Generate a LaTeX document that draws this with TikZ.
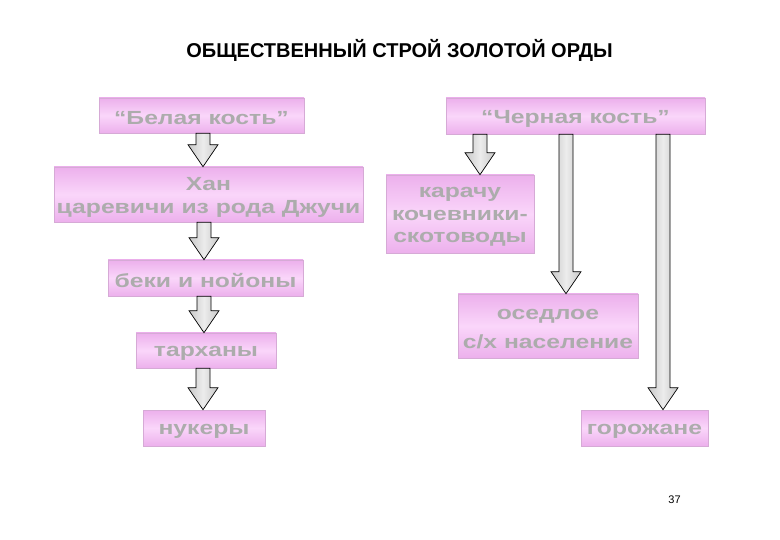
\documentclass[tikz,border=0pt]{standalone}
\usepackage{fontspec}
\setmainfont{Liberation Sans}
\newfontfamily\boxfont[FakeStretch=1.3]{Liberation Sans}
\usetikzlibrary{calc}
\definecolor{pinkedge}{RGB}{236,176,236}
\definecolor{pinklight}{RGB}{250,214,250}
\definecolor{pinkborder}{RGB}{214,170,214}
\definecolor{boxtext}{RGB}{172,172,172}
\definecolor{arrgray}{RGB}{200,200,200}
\definecolor{arrlight}{RGB}{236,236,236}
\tikzset{
  pbox/.style={draw=pinkborder, line width=0.6pt,
    top color=pinkedge, bottom color=pinkedge, middle color=pinklight,
    inner sep=0pt},
  boxtxt/.style={align=center, inner sep=0pt, text=boxtext, yshift=-3pt,
    font=\boxfont\bfseries\fontsize{19}{22.5}\selectfont},
  barr/.style={draw=black, line width=0.7pt,
    left color=arrgray, right color=arrgray, middle color=arrlight},
}
\newcommand\blockarr[3]{%
  \path let \p1=(#2.south), \p2=(#3.north) in
    [barr] (#1-7pt,\y1) -- (#1+7pt,\y1) -- (#1+7pt,\y2+22pt) -- (#1+15pt,\y2+22pt)
      -- (#1pt,\y2) -- (#1-15pt,\y2+22pt) -- (#1-7pt,\y2+22pt) -- cycle;}
\begin{document}
\begin{tikzpicture}[x=1pt,y=1pt]
\useasboundingbox (0,0) rectangle (780,-540);
\node[font=\bfseries\fontsize{20}{24}\selectfont] (title) at (399.5,-50) {ОБЩЕСТВЕННЫЙ СТРОЙ ЗОЛОТОЙ ОРДЫ};
\node[font=\fontsize{11}{13}\selectfont] (page) at (674.5,-500) {37};

\node[pbox, minimum width=205pt, minimum height=35pt] (b1) at (201.5,-115.5) {};
\node[pbox, minimum width=309pt, minimum height=55pt] (b2) at (208.5,-194.5) {};
\node[pbox, minimum width=195pt, minimum height=36pt] (b3) at (205.5,-278) {};
\node[pbox, minimum width=140pt, minimum height=35pt] (b4) at (206,-350.5) {};
\node[pbox, minimum width=122pt, minimum height=36pt] (b5) at (204,-428) {};

\node[pbox, minimum width=259pt, minimum height=36pt] (c1) at (575.5,-116) {};
\node[pbox, minimum width=148pt, minimum height=78pt] (c2) at (460,-214) {};
\node[pbox, minimum width=180pt, minimum height=64pt] (c3) at (548,-326) {};
\node[pbox, minimum width=127pt, minimum height=36pt] (c4) at (644.5,-428) {};

\node[boxtxt] (b1t) at (b1) {“Белая кость”};
\node[boxtxt] (b2t) at (b2) {Хан\\царевичи из рода Джучи};
\node[boxtxt] (b3t) at (b3) {беки и нойоны};
\node[boxtxt] (b4t) at (b4) {тарханы};
\node[boxtxt] (b5t) at (b5) {нукеры};
\node[boxtxt] (c1t) at (c1) {“Черная кость”};
\node[boxtxt] (c2t) at (c2) {карачу\\кочевники-\\скотоводы};
\node[boxtxt] (c3t) at (c3) {оседлое\\[6pt]с/х население};
\node[boxtxt] (c4t) at (c4) {горожане};

\blockarr{203}{b1}{b2}
\blockarr{204}{b2}{b3}
\blockarr{204}{b3}{b4}
\blockarr{203}{b4}{b5}
\blockarr{480}{c1}{c2}
\blockarr{566}{c1}{c3}
\blockarr{663}{c1}{c4}
\end{tikzpicture}
\end{document}
